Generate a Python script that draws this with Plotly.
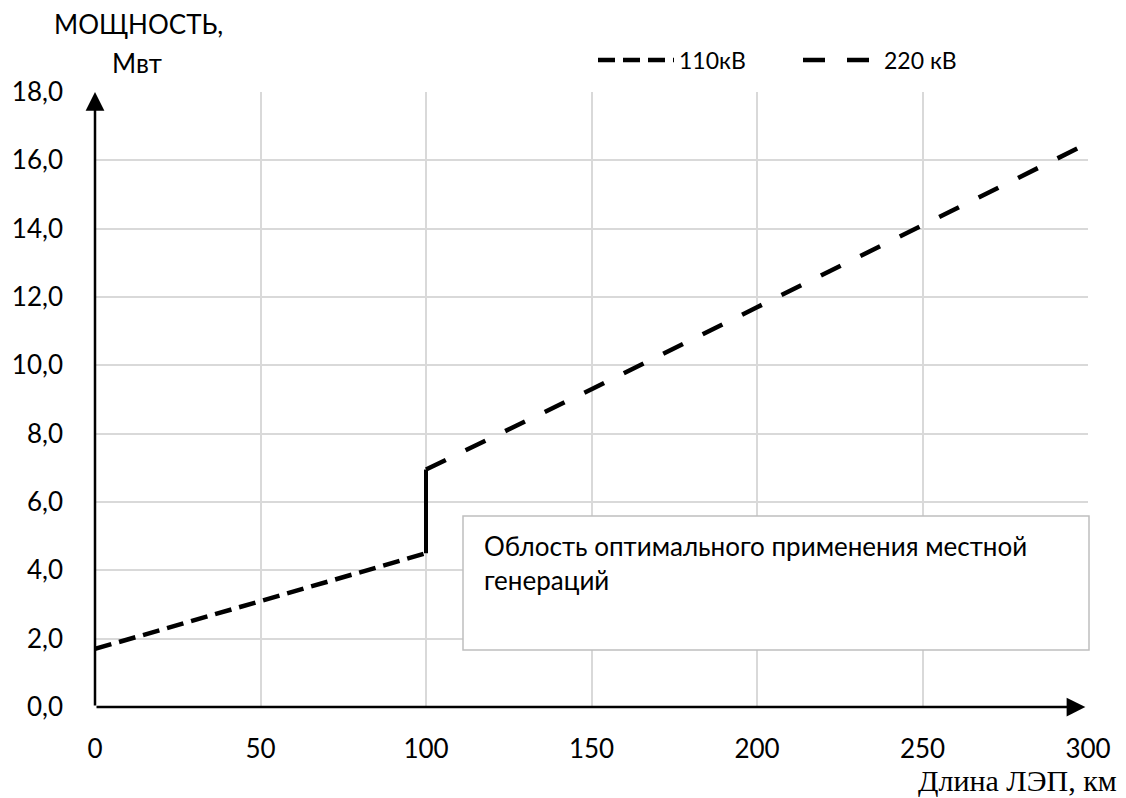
import plotly.graph_objects as go

# Data
x_110 = [0, 25, 50, 75, 100]
y_110 = [1.7, 2.4, 3.1, 3.8, 4.5]
x_220 = [100, 150, 200, 250, 300]
y_220 = [6.95, 9.3, 11.7, 14.1, 16.5]
x_step = [100, 100]
y_step = [4.5, 6.95]
x_ticks = [0, 50, 100, 150, 200, 250, 300]
y_ticks = [0, 2, 4, 6, 8, 10, 12, 14, 16, 18]
y_ticklabels = ["0,0", "2,0", "4,0", "6,0", "8,0", "10,0", "12,0", "14,0", "16,0", "18,0"]

FONT = "Lato"

fig = go.Figure()
fig.add_trace(go.Scatter(x=x_110, y=y_110, mode="lines", name="110кВ",
                         line=dict(color="black", width=4.5, dash="17px,8px")))
fig.add_trace(go.Scatter(x=x_220, y=y_220, mode="lines", name="220 кВ",
                         line=dict(color="black", width=4.5, dash="22px,22px")))
fig.add_trace(go.Scatter(x=x_step, y=y_step, mode="lines", showlegend=False,
                         line=dict(color="black", width=4)))


def px(xp):
    return (xp - 95) / 993


def py(yp):
    return (707 - yp) / 615


fig.update_layout(
    width=1118, height=790,
    margin=dict(l=87, r=38, t=84, b=91, autoexpand=False),
    plot_bgcolor="white", paper_bgcolor="white",
    font=dict(family=FONT, size=26, color="black"),
    showlegend=True,
    legend=dict(orientation="h", x=px(593), xanchor="left", y=py(60), yanchor="middle",
                font=dict(family=FONT, size=23, color="black"),
                itemwidth=76, entrywidth=114, entrywidthmode="pixels",
                bgcolor="rgba(0,0,0,0)"),
    xaxis=dict(range=[0, 300], tickvals=x_ticks, showgrid=True, gridcolor="#d9d9d9",
               gridwidth=1.5, zeroline=False, showline=False, automargin=False,
               ticks="", ticklabelstandoff=24, tickfont=dict(family=FONT, size=26)),
    yaxis=dict(range=[0, 18], tickvals=y_ticks, ticktext=y_ticklabels, showgrid=True,
               gridcolor="#d9d9d9", gridwidth=1.5, zeroline=False, showline=False,
               automargin=False,
               ticks="", ticklabelstandoff=31, tickfont=dict(family=FONT, size=26)),
)

# axis arrows
fig.add_annotation(x=0, y=18, ax=0, ay=0, xref="x", yref="y", axref="x", ayref="y",
                   text="", showarrow=True, arrowhead=2, arrowsize=1.5, arrowwidth=2.5,
                   arrowcolor="black")
fig.add_annotation(x=299.2, y=0, ax=0, ay=0, xref="x", yref="y", axref="x", ayref="y",
                   text="", showarrow=True, arrowhead=2, arrowsize=1.5, arrowwidth=2.5,
                   arrowcolor="black")

# axis titles
fig.add_annotation(x=px(138.5), y=py(24), xref="paper", yref="paper", text="МОЩНОСТЬ,",
                   showarrow=False, font=dict(family=FONT, size=26), xanchor="center", yanchor="middle")
fig.add_annotation(x=px(137), y=py(63), xref="paper", yref="paper", text="Мвт",
                   showarrow=False, font=dict(family=FONT, size=26), xanchor="center", yanchor="middle")
fig.add_annotation(x=px(1118), y=py(798), xref="paper", yref="paper", text="Длина ЛЭП, км",
                   showarrow=False, font=dict(family="Liberation Serif", size=30),
                   xanchor="right", yanchor="bottom", borderpad=0)

# text box
fig.add_shape(type="rect", xref="paper", yref="paper", x0=px(463), x1=px(1089),
              y0=py(650), y1=py(516), line=dict(color="#bfbfbf", width=1.5),
              fillcolor="white", layer="above")
fig.add_annotation(x=px(482), y=py(528), xref="paper", yref="paper",
                   xanchor="left", yanchor="top", showarrow=False,
                   text="Облость оптимального применения местной<br>генераций",
                   align="left", font=dict(family=FONT, size=26))

fig.write_html("out.html")
